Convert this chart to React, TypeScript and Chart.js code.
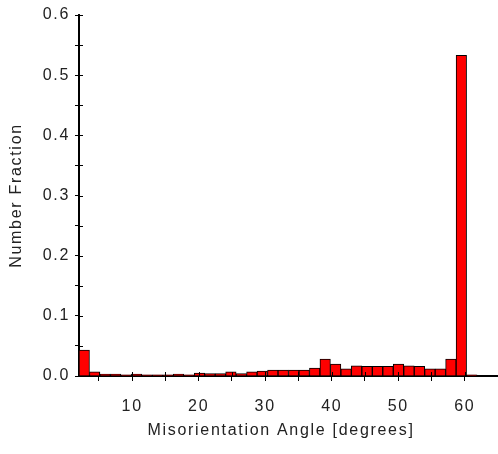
import React, { useEffect, useRef } from "react";
import { Chart, registerables } from "chart.js";

Chart.register(...registerables);

// Bin centres (degrees) of the misorientation histogram
const binCenters: number[] = [
  2.788, 4.363, 5.938, 7.513, 9.088, 10.663, 12.238, 13.813, 15.388, 16.963,
  18.538, 20.113, 21.688, 23.263, 24.838, 26.413, 27.988, 29.563, 31.138, 32.713,
  34.288, 35.863, 37.438, 39.013, 40.588, 42.163, 43.738, 45.313, 46.888, 48.463,
  50.038, 51.613, 53.188, 54.763, 56.338, 57.913, 59.488, 61.063, 62.638, 64.213,
];

// Number fraction per bin
const numberFraction: number[] = [
  0.043, 0.007, 0.003, 0.003, 0.002, 0.003, 0.002, 0.002, 0.002, 0.003,
  0.002, 0.005, 0.004, 0.004, 0.007, 0.004, 0.007, 0.008, 0.010, 0.010,
  0.010, 0.010, 0.013, 0.028, 0.020, 0.012, 0.017, 0.016, 0.016, 0.016,
  0.020, 0.017, 0.016, 0.012, 0.012, 0.028, 0.533, 0.002, 0, 0,
];

const xTitle = "Misorientation Angle [degrees]";
const yTitle = "Number Fraction";

const LS = "1.7px";
const TEXT = "#222";

const spacingPlugin = {
  id: "spacing",
  beforeLayout(chart: any) {
    (chart.ctx as any).letterSpacing = LS;
  },
  beforeDraw(chart: any) {
    (chart.ctx as any).letterSpacing = LS;
  },
};

const innerTicksPlugin = {
  id: "innerTicks",
  afterDraw(chart: any) {
    const ctx = chart.ctx as CanvasRenderingContext2D;
    const { left, bottom } = chart.chartArea;
    const xs = chart.scales.x;
    const ys = chart.scales.y;
    ctx.save();
    ctx.strokeStyle = "#000";
    ctx.lineWidth = 1;
    ctx.beginPath();
    xs.ticks.forEach((t: any) => {
      const px = Math.round(xs.getPixelForValue(t.value)) + 0.5;
      ctx.moveTo(px, bottom);
      ctx.lineTo(px, bottom - 4);
    });
    ys.ticks.forEach((t: any) => {
      const py = Math.round(ys.getPixelForValue(t.value)) + 0.5;
      ctx.moveTo(left, py);
      ctx.lineTo(left + 4, py);
    });
    ctx.stroke();
    // x-axis title
    (ctx as any).letterSpacing = LS;
    ctx.fillStyle = TEXT;
    ctx.font = "16px 'Liberation Sans'";
    ctx.textAlign = "center";
    ctx.textBaseline = "middle";
    ctx.fillText(xTitle, 281, 431);
    ctx.restore();
  },
};

export default function App() {
  const ref = useRef<HTMLCanvasElement | null>(null);

  useEffect(() => {
    if (!ref.current) return;
    Chart.defaults.font.family = "'Liberation Sans'";
    Chart.defaults.font.size = 16;
    Chart.defaults.color = TEXT;

    const chart = new Chart(ref.current, {
      type: "bar",
      data: {
        datasets: [
          {
            data: binCenters.map((c, i) => ({ x: c, y: numberFraction[i] })),
            backgroundColor: "#ff0000",
            borderColor: "#000000",
            borderWidth: 1,
            barPercentage: 1,
            categoryPercentage: 1,
          },
        ],
      },
      options: {
        responsive: false,
        animation: false,
        devicePixelRatio: 1,
        layout: { padding: { top: 15, right: 0, left: 0, bottom: 0 } },
        plugins: { legend: { display: false }, tooltip: { enabled: false } },
        scales: {
          x: {
            type: "linear",
            min: 2,
            max: 65,
            offset: false,
            border: { display: true, color: "#000", width: 2 },
            grid: {
              offset: false,
              drawOnChartArea: false,
              drawTicks: true,
              tickLength: 5,
              tickColor: "#000",
              tickWidth: 1,
            },
            afterBuildTicks(scale: any) {
              scale.ticks = scale.ticks.filter(
                (t: any) => Math.abs(t.value / 5 - Math.round(t.value / 5)) < 1e-6
              );
            },
            afterFit(scale: any) {
              scale.height = 78;
              scale.paddingRight = 0;
              scale.paddingLeft = 0;
            },
            ticks: {
              stepSize: 5,
              autoSkip: false,
              maxRotation: 0,
              minRotation: 0,
              padding: 16,
              color: TEXT,
              callback: (v: any) => (Math.round(v) % 10 === 0 && v >= 10 && v <= 60 ? String(v) : ""),
            },
            title: { display: false },
          },
          y: {
            type: "linear",
            min: 0,
            max: 0.6,
            border: { display: true, color: "#000", width: 2 },
            grid: {
              drawOnChartArea: false,
              drawTicks: true,
              tickLength: 4,
              tickColor: "#000",
              tickWidth: 1,
            },
            afterFit(scale: any) {
              scale.width = 79;
            },
            ticks: {
              stepSize: 0.05,
              autoSkip: false,
              padding: 5,
              color: TEXT,
              callback: (v: any) => {
                const n = Number(v) * 10;
                return Math.abs(n - Math.round(n)) < 1e-6 ? (Math.round(n) / 10).toFixed(1) : "";
              },
            },
            title: {
              display: true,
              text: yTitle,
              color: TEXT,
              padding: { top: 7, bottom: 0 },
            },
          },
        },
      },
      plugins: [spacingPlugin, innerTicksPlugin],
    } as any);

    return () => chart.destroy();
  }, []);

  return (
    <div style={{ position: "absolute", left: 0, top: 0, width: 498, height: 454, background: "#fff" }}>
      <canvas ref={ref} width={498} height={454} style={{ display: "block" }} />
    </div>
  );
}
